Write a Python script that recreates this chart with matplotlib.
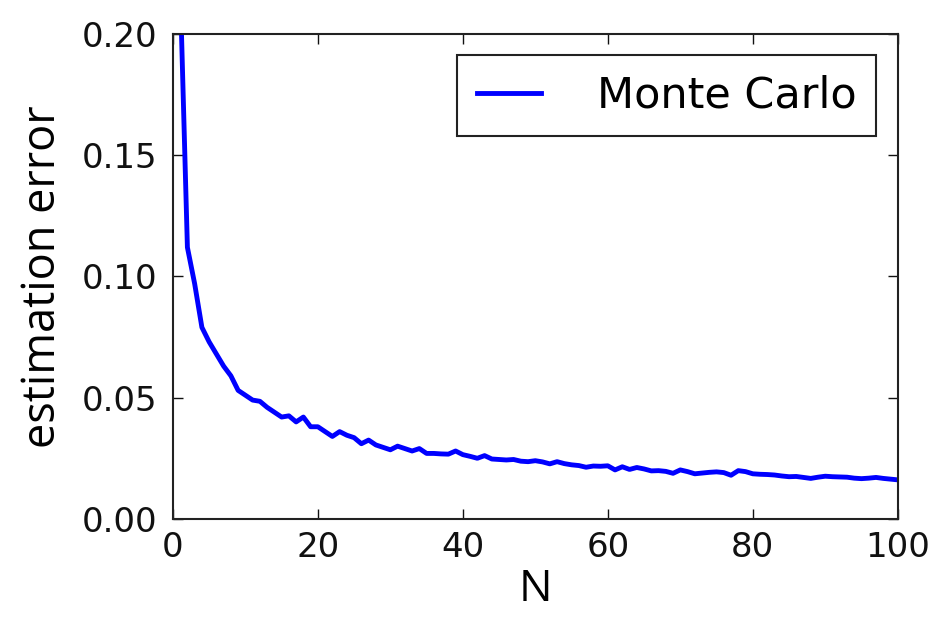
import numpy as np
import matplotlib
matplotlib.use("Agg")
import matplotlib.pyplot as plt

# Number of samples N and the measured estimation error
n_samples = list(range(1, 101))
mc_error = [
    0.220, 0.112, 0.097, 0.079, 0.073, 0.068, 0.063, 0.059, 0.053, 0.051,
    0.049, 0.0485, 0.046, 0.044, 0.042, 0.0425, 0.040, 0.042, 0.038, 0.038,
    0.036, 0.034, 0.036, 0.0345, 0.0335, 0.031, 0.0325, 0.0305, 0.0295, 0.0285,
    0.030, 0.029, 0.028, 0.029, 0.027, 0.027, 0.0268, 0.0267, 0.028, 0.0265,
    0.0258, 0.025, 0.0261, 0.0247, 0.0245, 0.0243, 0.0245, 0.0238, 0.0236, 0.024,
    0.0235, 0.0227, 0.0236, 0.0228, 0.0223, 0.022, 0.0213, 0.0218, 0.0217, 0.0219,
    0.0202, 0.0215, 0.0204, 0.0212, 0.0206, 0.0198, 0.0199, 0.0196, 0.0188, 0.0202,
    0.0195, 0.0186, 0.0189, 0.0192, 0.0194, 0.0191, 0.018, 0.0199, 0.0195, 0.0186,
    0.0184, 0.0183, 0.0181, 0.0177, 0.0174, 0.0175, 0.0171, 0.0167, 0.0172, 0.0176,
    0.0174, 0.0173, 0.0172, 0.0168, 0.0166, 0.0168, 0.0171, 0.0167, 0.0164, 0.0161,
]
series_label = "Monte Carlo"
x_ticks = [0, 20, 40, 60, 80, 100]
y_ticks = [0.00, 0.05, 0.10, 0.15, 0.20]

fig = plt.figure(figsize=(9.5, 6.17), dpi=100)
ax = fig.add_axes([0.182, 0.159, 0.763, 0.786])

ax.plot(n_samples, mc_error, color="#0000ff", lw=3.5, label=series_label)

ax.set_xlim(0, 100)
ax.set_ylim(0, 0.2)
ax.set_xticks(x_ticks)
ax.set_yticks(y_ticks)
ax.set_yticklabels([f"{v:.2f}" for v in y_ticks])

for s in ax.spines.values():
    s.set_linewidth(1.5)
    s.set_color("#222222")
ax.tick_params(direction="in", top=True, right=True, length=7.5, width=1,
               labelsize=24.5, colors="#111111")
ax.tick_params(axis="x", pad=9)
ax.tick_params(axis="y", pad=11)

ax.set_xlabel("N", family="Open Sans", fontsize=32)
ax.set_ylabel("estimation error", family="Open Sans", fontsize=32.5)
ax.yaxis.set_label_coords(-0.148, 0.5)
ax.xaxis.set_label_coords(0.5, -0.1)

leg = ax.legend(loc="upper right", fontsize=31, handlelength=1.5,
                handletextpad=1.3, borderpad=0.45, borderaxespad=0.5,
                fancybox=False, framealpha=1)
leg.get_frame().set_edgecolor("#222222")
leg.get_frame().set_linewidth(1.5)

fig.savefig("out.png", dpi=100)
